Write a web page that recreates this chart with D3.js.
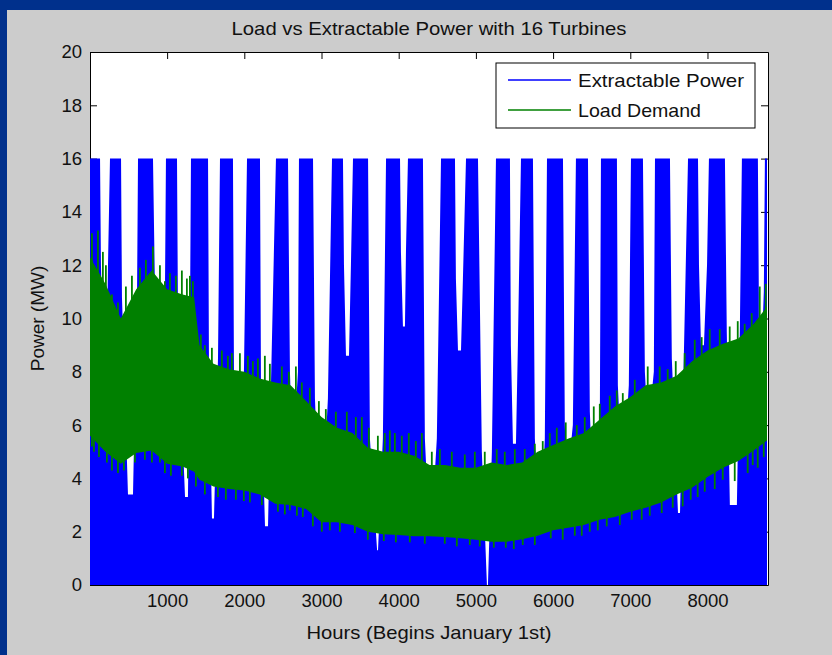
<!DOCTYPE html>
<meta charset="utf-8">
<style>
body { margin: 0; background: #cccccc; }
text { font-family: "Liberation Sans", Arial, sans-serif; fill: #111; }
</style>
<body>
<script src="https://d3js.org/d3.v7.min.js"></script>
<script>
const TITLE = "Load vs Extractable Power with 16 Turbines",
      X_LABEL = "Hours (Begins January 1st)",
      Y_LABEL = "Power (MW)";

const xTicks = [1000, 2000, 3000, 4000, 5000, 6000, 7000, 8000];
const yTicks = [0, 2, 4, 6, 8, 10, 12, 14, 16, 18, 20];

// extractable power is capped at 16 MW, neap tides cut gaps into it
// each gap: leaves 16 MW at gapStart, narrows to the shoulder, bottoms out at gapMin
const CAP = 16;
const gapStart     = [131, 403, 817, 1128, 1530, 1853, 2203, 2566, 2890, 3278, 3603, 4017, 4314, 4729, 5027, 5441, 5739, 6128, 6452, 6827, 7164, 7514, 7877, 8226, 8653];
const gapEnd       = [260, 623, 985, 1309, 1685, 2035, 2410, 2708, 3136, 3408, 3836, 4120, 4548, 4872, 5260, 5584, 5921, 6296, 6620, 7009, 7320, 7748, 8019, 8446, 8744];
const shoulderStart = [143, 415, 843, 1141, 1542, 1866, 2216, 2591, 2915, 3291, 3627, 4029, 4339, 4741, 5077, 5453, 5764, 6152, 6476, 6839, 7189, 7538, 7890, 8250, 8665];
const shoulderEnd   = [234, 610, 972, 1296, 1659, 1995, 2345, 2695, 3083, 3381, 3795, 4094, 4494, 4832, 5207, 5544, 5893, 6256, 6606, 6981, 7305, 7693, 7994, 8419, 8730];
const shoulderMW    = [12, 10.8, 11, 10, 8.5, 8, 7.5, 8, 7, 12, 5.5, 12.5, 5.5, 11.5, 5, 9, 5.5, 6, 6.5, 7.5, 8, 8.5, 12, 9.5, 11];
const gapLowStart  = [182, 493, 882, 1232, 1581, 1905, 2268, 2618, 2954, 3317, 3720, 4055, 4379, 4768, 5143, 5480, 5804, 6167, 6517, 6879, 7216, 7618, 7916, 8290, 8666];
const gapLowEnd    = [208, 558, 921, 1270, 1607, 1944, 2307, 2644, 3032, 3356, 3732, 4081, 4444, 4807, 5156, 5519, 5856, 6206, 6568, 6931, 7255, 7644, 7954, 8381, 8705];
const gapMin       = [7, 3.4, 8, 3.3, 2.5, 5, 2.2, 5.5, 4, 8.6, 1.3, 9.7, 3, 8.8, 0, 5.3, 3, 4.5, 3.5, 5, 6.5, 2.7, 9, 3.0, 9];

// load demand band (daily swing), MW
const loadHours = [1, 200, 400, 600, 800, 1000, 1200, 1350, 1420, 1600, 1800, 2000, 2200, 2400, 2600, 2800, 3000, 3200, 3400,
                   3600, 3800, 4000, 4200, 4400, 4600, 4800, 5000, 5200, 5400, 5600, 5800, 6000, 6200, 6400, 6600, 6800, 7000,
                   7200, 7400, 7600, 7800, 8000, 8200, 8400, 8600, 8784];
const loadHigh  = [12.3, 11.3, 10.0, 11.1, 11.8, 11.1, 10.9, 10.8, 9.0, 8.3, 8.1, 8.0, 7.75, 7.6, 7.5, 6.9, 6.3, 5.9, 5.7,
                   5.15, 5.0, 5.0, 4.85, 4.5, 4.5, 4.4, 4.4, 4.6, 4.5, 4.6, 5.0, 5.25, 5.5, 5.7, 6.2, 6.7, 7.05,
                   7.5, 7.6, 7.85, 8.4, 8.8, 9.05, 9.25, 9.8, 10.5];
const loadLow   = [5.6, 5.0, 4.55, 4.95, 5.05, 4.55, 4.45, 4.25, 3.95, 3.7, 3.6, 3.55, 3.4, 3.05, 3.0, 2.85, 2.35, 2.35, 2.25,
                   2.0, 1.9, 1.88, 1.83, 1.83, 1.8, 1.75, 1.7, 1.62, 1.62, 1.72, 1.85, 2.05, 2.15, 2.25, 2.45, 2.55, 2.75,
                   2.9, 3.1, 3.4, 3.65, 4.05, 4.4, 4.65, 5.05, 5.45];

// single hours poking out of the band: [hour, MW]
const loadPeaks = [[26,13.2],[104,13.3],[168,12.5],[207,12.0],[285,10.9],[363,10.6],[466,11.2],[544,11.6],[648,11.9],[725,12.2],
  [816,12.7],[907,12.0],[971,11.4],[1036,11.7],[1114,11.6],[1191,11.8],[1256,11.5],[1295,11.6],[1334,11.4],[1437,9.4],
  [1489,9.0],[1580,8.9],[1709,8.8],[1787,8.6],[1839,8.7],[1943,8.7],[2046,8.6],[2111,8.4],[2176,8.5],[2266,8.6],
  [2331,8.3],[2486,8.2],[2577,8.0],[2668,8.2],[2745,7.6],[2849,7.4],[2966,6.9],[3056,6.6],[3186,6.5],[3328,6.5],
  [3445,6.3],[3522,6.3],[3613,5.9],[3730,5.6],[3820,5.7],[3885,5.8],[3950,5.7],[4040,5.6],[4131,5.7],[4222,5.4],
  [4300,5.7],[4429,5.0],[4533,5.1],[4688,5.0],[4856,4.9],[4986,5.0],[5115,5.0],[5270,5.1],[5374,5.0],[5504,5.1],
  [5633,5.1],[5763,5.3],[5866,5.4],[5957,5.7],[6048,5.9],[6164,6.1],[6307,6.0],[6410,6.3],[6527,6.7],[6605,6.8],
  [6734,7.1],[6825,7.3],[6903,7.2],[7058,7.7],[7226,8.2],[7381,8.2],[7485,8.1],[7589,8.4],[7705,8.7],[7835,9.2],
  [7925,9.3],[8029,9.6],[8159,9.6],[8288,9.7],[8392,9.9],[8482,9.8],[8573,10.2],[8677,11.2],[8755,11.3]];
const loadDips = [[26,5.2],[52,5.0],[117,4.8],[220,4.6],[285,4.3],[363,4.2],[440,4.3],[583,4.6],[712,4.7],[803,4.6],
  [907,4.6],[971,4.2],[1049,4.1],[1191,4.1],[1269,4.0],[1373,3.7],[1489,3.4],[1658,3.3],[1761,3.2],[1891,3.2],
  [1994,3.15],[2072,3.1],[2227,3.0],[2435,2.75],[2525,2.65],[2590,2.8],[2681,2.6],[2758,2.55],[2888,2.2],[3004,2.0],
  [3108,2.05],[3238,2.0],[3432,1.95],[3600,1.7],[3807,1.65],[3963,1.6],[4144,1.6],[4338,1.55],[4597,1.55],[4753,1.45],
  [4921,1.5],[5050,1.45],[5232,1.4],[5387,1.4],[5491,1.35],[5607,1.5],[5763,1.5],[5970,1.75],[6125,1.7],[6281,1.85],
  [6371,1.85],[6475,2.0],[6579,2.05],[6695,2.2],[6864,2.25],[7019,2.45],[7148,2.45],[7252,2.6],[7407,2.7],[7550,2.9],
  [7679,2.95],[7783,3.2],[7873,3.3],[7964,3.5],[8094,3.6],[8198,3.95],[8353,3.9],[8521,4.2],[8586,4.5],[8651,4.4],[8729,4.8]];

const W = 832, H = 655,
      plot = {left: 90, right: 768, top: 52, bottom: 585};

const svg = d3.select("body").append("svg")
    .attr("width", W)
    .attr("height", H);

// dark slide frame + gray figure
svg.append("rect").attr("width", W).attr("height", H).attr("fill", "#00308c");
svg.append("rect").attr("x", 7).attr("y", 10).attr("width", W - 7).attr("height", H - 10).attr("fill", "#cccccc");

const x = d3.scaleLinear().domain([1, 8784]).range([plot.left, plot.right]);
const y = d3.scaleLinear().domain([0, 20]).range([plot.bottom, plot.top]);

svg.append("rect")
    .attr("x", plot.left).attr("y", plot.top)
    .attr("width", plot.right - plot.left).attr("height", plot.bottom - plot.top)
    .attr("fill", "#fff");

// axes (ticks inward, drawn under the data like matlab)
const axes = svg.append("g").attr("class", "axes");
axes.append("g")
    .attr("transform", "translate(0," + plot.bottom + ")")
    .call(d3.axisBottom(x).tickValues(xTicks).tickFormat(d3.format("d")).tickSizeInner(-7).tickSizeOuter(0).tickPadding(9));
axes.append("g")
    .attr("transform", "translate(0," + plot.top + ")")
    .call(d3.axisTop(x).tickValues(xTicks).tickSizeInner(-7).tickSizeOuter(0).tickFormat(""));
axes.append("g")
    .attr("transform", "translate(" + plot.left + ",0)")
    .call(d3.axisLeft(y).tickValues(yTicks).tickSizeInner(-7).tickSizeOuter(0).tickPadding(8));
axes.append("g")
    .attr("transform", "translate(" + plot.right + ",0)")
    .call(d3.axisRight(y).tickValues(yTicks).tickSizeInner(-7).tickSizeOuter(0).tickFormat(""));
axes.selectAll("text").style("font-size", "18.5px").attr("fill", "#111");
axes.selectAll(".domain, line").attr("stroke", "#000");

svg.append("clipPath").attr("id", "clip")
  .append("rect")
    .attr("x", plot.left - 1).attr("y", plot.top)
    .attr("width", plot.right - plot.left).attr("height", plot.bottom - plot.top + 1);

const data = svg.append("g").attr("clip-path", "url(#clip)");

// extractable power
let powerPts = [[1, CAP]];
gapStart.forEach(function(h, i) {
  powerPts.push([h, CAP],
                [shoulderStart[i], shoulderMW[i]],
                [gapLowStart[i], gapMin[i]],
                [gapLowEnd[i], gapMin[i]],
                [shoulderEnd[i], shoulderMW[i]],
                [gapEnd[i], CAP]);
});
powerPts.push([8784, CAP]);

data.append("path")
    .datum(powerPts)
    .attr("fill", "#0000ff")
    .attr("d", d3.area()
        .x(function(d) { return x(d[0]); })
        .y0(y(0))
        .y1(function(d) { return y(d[1]); }));

// load demand
const loadPts = loadHours.map(function(h, i) { return [h, loadLow[i], loadHigh[i]]; });
data.append("path")
    .datum(loadPts)
    .attr("fill", "#008000")
    .attr("d", d3.area()
        .x(function(d) { return x(d[0]); })
        .y0(function(d) { return y(d[1]); })
        .y1(function(d) { return y(d[2]); }));

const highAt = d3.scaleLinear().domain(loadHours).range(loadHigh),
      lowAt = d3.scaleLinear().domain(loadHours).range(loadLow);

data.selectAll(".peak")
    .data(loadPeaks)
  .enter().append("line")
    .attr("class", "peak")
    .attr("x1", function(d) { return x(d[0]); })
    .attr("x2", function(d) { return x(d[0]); })
    .attr("y1", function(d) { return y(highAt(d[0])) + 4; })
    .attr("y2", function(d) { return y(d[1]); })
    .attr("stroke", "#008000")
    .attr("stroke-width", 1.8);

data.selectAll(".dip")
    .data(loadDips)
  .enter().append("line")
    .attr("class", "dip")
    .attr("x1", function(d) { return x(d[0]); })
    .attr("x2", function(d) { return x(d[0]); })
    .attr("y1", function(d) { return y(lowAt(d[0])) - 4; })
    .attr("y2", function(d) { return y(d[1]); })
    .attr("stroke", "#008000")
    .attr("stroke-width", 1.8);

// title and labels
svg.append("text")
    .attr("x", (plot.left + plot.right) / 2)
    .attr("y", 35)
    .attr("text-anchor", "middle")
    .attr("textLength", 395)
    .attr("lengthAdjust", "spacingAndGlyphs")
    .style("font-size", "19px")
    .text(TITLE);

svg.append("text")
    .attr("x", (plot.left + plot.right) / 2)
    .attr("y", 639)
    .attr("text-anchor", "middle")
    .attr("textLength", 245)
    .attr("lengthAdjust", "spacingAndGlyphs")
    .style("font-size", "19px")
    .text(X_LABEL);

svg.append("text")
    .attr("transform", "translate(44," + (plot.top + plot.bottom) / 2 + ") rotate(-90)")
    .attr("text-anchor", "middle")
    .style("font-size", "19px")
    .text(Y_LABEL);

// legend
const legend = svg.append("g").attr("transform", "translate(496,63)");
legend.append("rect")
    .attr("width", 259).attr("height", 65)
    .attr("fill", "#fff").attr("stroke", "#000");
const entries = [["Extractable Power", "#0000ff", 17, 166], ["Load Demand", "#008000", 47, 123]];
entries.forEach(function(e) {
  legend.append("line")
      .attr("x1", 12).attr("x2", 75)
      .attr("y1", e[2]).attr("y2", e[2])
      .attr("stroke", e[1]).attr("stroke-width", 1.5);
  legend.append("text")
      .attr("x", 82).attr("y", e[2] + 7)
      .attr("textLength", e[3])
      .attr("lengthAdjust", "spacingAndGlyphs")
      .style("font-size", "19px")
      .text(e[0]);
});
</script>
</body>
